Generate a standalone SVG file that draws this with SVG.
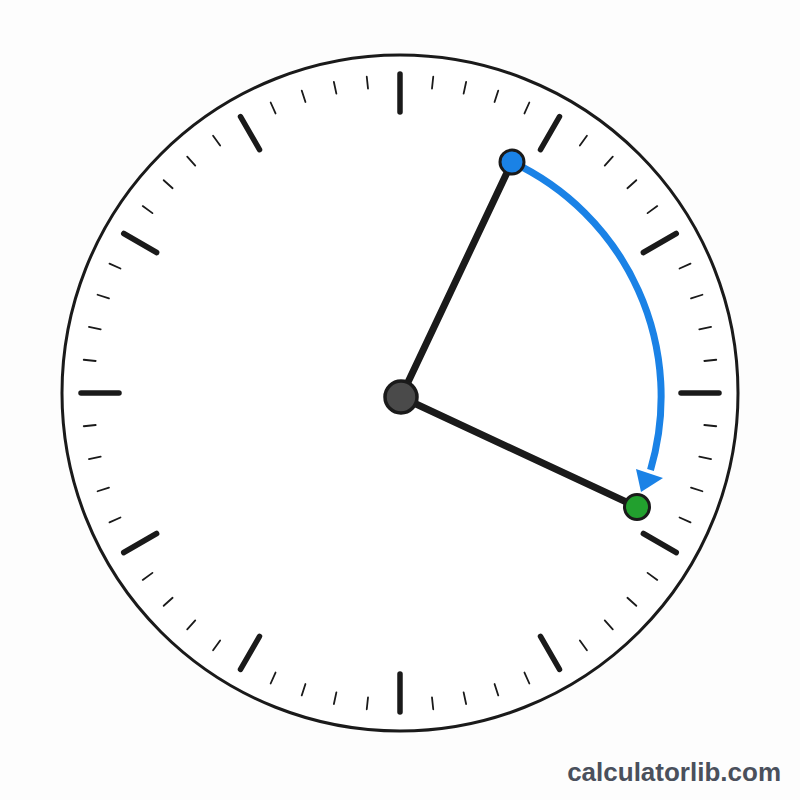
<svg xmlns="http://www.w3.org/2000/svg" xmlns:xlink="http://www.w3.org/1999/xlink" width="800" height="800" viewBox="0 0 800 800">
<style>
.hour{stroke:#1a1a1a;stroke-width:5.5;stroke-linecap:round}
.min{stroke:#1a1a1a;stroke-width:1.8;stroke-linecap:round}
.hand{stroke:#1a1a1a;stroke-width:7;stroke-linecap:round;fill:none}
.brand{font-family:"Liberation Sans",Arial,sans-serif;font-weight:bold;font-size:26px;fill:#4a505c}
</style>
<defs>
<line id="ht" class="hour" x1="400" y1="112" x2="400" y2="74"/>
<line id="mt" class="min" x1="400" y1="87" x2="400" y2="75"/>
</defs>
<rect width="800" height="800" fill="#fdfdfd"/>
<g id="face">
<circle cx="400" cy="393" r="338" fill="#ffffff" stroke="#1a1a1a" stroke-width="3"/>
</g>
<g id="hour-ticks">
<use xlink:href="#ht" transform="rotate(0 400 393)"/>
<use xlink:href="#ht" transform="rotate(30 400 393)"/>
<use xlink:href="#ht" transform="rotate(60 400 393)"/>
<use xlink:href="#ht" transform="rotate(90 400 393)"/>
<use xlink:href="#ht" transform="rotate(120 400 393)"/>
<use xlink:href="#ht" transform="rotate(150 400 393)"/>
<use xlink:href="#ht" transform="rotate(180 400 393)"/>
<use xlink:href="#ht" transform="rotate(210 400 393)"/>
<use xlink:href="#ht" transform="rotate(240 400 393)"/>
<use xlink:href="#ht" transform="rotate(270 400 393)"/>
<use xlink:href="#ht" transform="rotate(300 400 393)"/>
<use xlink:href="#ht" transform="rotate(330 400 393)"/>
</g>
<g id="minute-ticks">
<use xlink:href="#mt" transform="rotate(6 400 393)"/><use xlink:href="#mt" transform="rotate(12 400 393)"/><use xlink:href="#mt" transform="rotate(18 400 393)"/><use xlink:href="#mt" transform="rotate(24 400 393)"/>
<use xlink:href="#mt" transform="rotate(36 400 393)"/><use xlink:href="#mt" transform="rotate(42 400 393)"/><use xlink:href="#mt" transform="rotate(48 400 393)"/><use xlink:href="#mt" transform="rotate(54 400 393)"/>
<use xlink:href="#mt" transform="rotate(66 400 393)"/><use xlink:href="#mt" transform="rotate(72 400 393)"/><use xlink:href="#mt" transform="rotate(78 400 393)"/><use xlink:href="#mt" transform="rotate(84 400 393)"/>
<use xlink:href="#mt" transform="rotate(96 400 393)"/><use xlink:href="#mt" transform="rotate(102 400 393)"/><use xlink:href="#mt" transform="rotate(108 400 393)"/><use xlink:href="#mt" transform="rotate(114 400 393)"/>
<use xlink:href="#mt" transform="rotate(126 400 393)"/><use xlink:href="#mt" transform="rotate(132 400 393)"/><use xlink:href="#mt" transform="rotate(138 400 393)"/><use xlink:href="#mt" transform="rotate(144 400 393)"/>
<use xlink:href="#mt" transform="rotate(156 400 393)"/><use xlink:href="#mt" transform="rotate(162 400 393)"/><use xlink:href="#mt" transform="rotate(168 400 393)"/><use xlink:href="#mt" transform="rotate(174 400 393)"/>
<use xlink:href="#mt" transform="rotate(186 400 393)"/><use xlink:href="#mt" transform="rotate(192 400 393)"/><use xlink:href="#mt" transform="rotate(198 400 393)"/><use xlink:href="#mt" transform="rotate(204 400 393)"/>
<use xlink:href="#mt" transform="rotate(216 400 393)"/><use xlink:href="#mt" transform="rotate(222 400 393)"/><use xlink:href="#mt" transform="rotate(228 400 393)"/><use xlink:href="#mt" transform="rotate(234 400 393)"/>
<use xlink:href="#mt" transform="rotate(246 400 393)"/><use xlink:href="#mt" transform="rotate(252 400 393)"/><use xlink:href="#mt" transform="rotate(258 400 393)"/><use xlink:href="#mt" transform="rotate(264 400 393)"/>
<use xlink:href="#mt" transform="rotate(276 400 393)"/><use xlink:href="#mt" transform="rotate(282 400 393)"/><use xlink:href="#mt" transform="rotate(288 400 393)"/><use xlink:href="#mt" transform="rotate(294 400 393)"/>
<use xlink:href="#mt" transform="rotate(306 400 393)"/><use xlink:href="#mt" transform="rotate(312 400 393)"/><use xlink:href="#mt" transform="rotate(318 400 393)"/><use xlink:href="#mt" transform="rotate(324 400 393)"/>
<use xlink:href="#mt" transform="rotate(336 400 393)"/><use xlink:href="#mt" transform="rotate(342 400 393)"/><use xlink:href="#mt" transform="rotate(348 400 393)"/><use xlink:href="#mt" transform="rotate(354 400 393)"/>
</g>
<g id="connectors">
<line class="hand" x1="401" y1="397" x2="512" y2="162"/>
<line class="hand" x1="401" y1="397" x2="637" y2="507"/>
<path d="M512 162 A259 259 0 0 1 650.5 470" fill="none" stroke="#1a82e6" stroke-width="7"/>
<polygon points="663,478 636,469 641,492" fill="#1a82e6"/>
</g>
<g id="hub">
<circle cx="401" cy="397" r="16" fill="#4a4a4a" stroke="#1a1a1a" stroke-width="3.5"/>
</g>
<g id="start-point">
<circle cx="512" cy="162" r="12" fill="#1a82e6" stroke="#1a1a1a" stroke-width="3"/>
</g>
<g id="end-point">
<circle cx="637" cy="507" r="12.5" fill="#22a02e" stroke="#1a1a1a" stroke-width="3"/>
</g>
<text class="brand" x="781" y="781" text-anchor="end">calculatorlib.com</text>
</svg>
